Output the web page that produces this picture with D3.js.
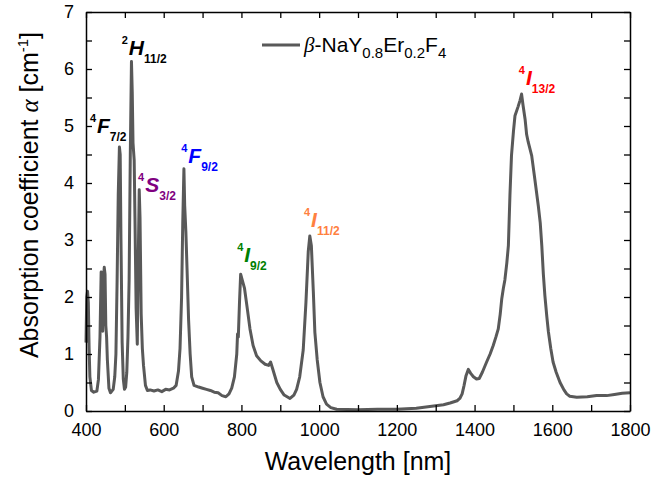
<!DOCTYPE html>
<html><head><meta charset="utf-8">
<script src="https://cdn.jsdelivr.net/npm/d3@7"></script>
<style>body{margin:0;background:#fff} text{font-family:Arial,"Liberation Sans",sans-serif}</style>
</head><body><svg id="c" width="655" height="481"></svg>
<script>
const wavelength = [400,402,404,406,408,410,414,420,428,432,436,439,441,443,445,447,449,451,453,455,459,463,470,474,477,480,483,486,488,490,493,496,499,502,505,508,511,514,517,519,521,524,526,529,532,534,537,539,542,545,548,553,558,565,575,585,595,605,615,625,632,638,642,646,649,652,654,657,660,664,668,672,678,690,700,710,720,730,740,750,760,768,775,782,788,790,792,795,798,802,808,815,822,830,839,850,861,870,875,880,891,900,910,925,935,942,950,959,966,972,976,980,985,989,995,1002,1010,1019,1030,1045,1100,1150,1200,1250,1285,1320,1337,1355,1362,1368,1373,1378,1384,1390,1397,1405,1412,1420,1431,1440,1448,1455,1461,1466,1470,1474,1478,1483,1487,1491,1495,1500,1504,1512,1517,1521,1525,1530,1534,1538,1547,1555,1564,1569,1573,1577,1581,1586,1590,1596,1602,1610,1620,1630,1637,1645,1663,1690,1714,1740,1760,1780,1800];
const alpha = [1.2,2.0,2.1,1.9,1.1,0.6,0.36,0.33,0.35,0.55,1.3,2.44,2.2,1.4,2.3,2.52,2.4,1.5,1.3,0.9,0.4,0.32,0.38,0.6,1.0,2.26,3.8,4.63,4.5,3.0,1.2,0.56,0.38,0.42,0.68,1.3,2.3,4.5,6.13,5.6,4.7,4.4,3.4,1.8,1.17,2.4,3.88,3.4,1.7,1.1,0.8,0.45,0.36,0.37,0.35,0.37,0.34,0.38,0.37,0.4,0.45,0.7,1.1,2.0,3.3,4.25,3.6,3.15,2.5,1.6,1.0,0.6,0.45,0.42,0.4,0.38,0.36,0.33,0.32,0.27,0.25,0.3,0.4,0.6,1.0,1.35,1.3,1.9,2.4,2.3,2.15,1.8,1.44,1.15,0.97,0.88,0.82,0.8,0.86,0.75,0.5,0.38,0.28,0.22,0.28,0.38,0.6,1.07,1.9,2.8,3.07,2.9,2.1,1.38,0.9,0.5,0.25,0.12,0.06,0.03,0.02,0.03,0.03,0.05,0.08,0.11,0.14,0.18,0.22,0.3,0.45,0.62,0.73,0.66,0.6,0.56,0.57,0.68,0.86,1.0,1.15,1.3,1.44,1.7,1.97,2.15,2.3,2.6,2.9,3.78,4.48,4.9,5.18,5.34,5.45,5.56,5.35,5.12,4.85,4.72,4.48,4.07,3.6,3.3,2.9,2.4,2.02,1.65,1.39,1.1,0.86,0.68,0.5,0.37,0.3,0.26,0.24,0.25,0.27,0.27,0.29,0.31,0.32];
const xTickLabels = [400,600,800,1000,1200,1400,1600,1800];
const yTickLabels = [0,1,2,3,4,5,6,7];
const transitionSup = ["2","4","4","4","4","4","4"];
const transitionMain = ["H","F","S","F","I","I","I"];
const transitionSub = ["11/2","7/2","3/2","9/2","9/2","11/2","13/2"];
const transitionColor = ["#000000","#000000","#800080","#0000ff","#008000","#ff8040","#ff0000"];
const labelAtWavelength = [492,410,534,645,789,961,1514];
const labelAtAlpha = [6.25,4.88,3.84,4.35,2.61,3.23,5.72];

const svg = d3.select("#c");
const m = {l:86, r:25, t:12, b:70};
const W = 655, H = 481;
const x = d3.scaleLinear().domain([400,1800]).range([m.l, W-m.r]);
const y = d3.scaleLinear().domain([0,7]).range([H-m.b, m.t]);

// data line
const pts = wavelength.map((w,i)=>[w,alpha[i]]);
svg.append("path").datum(pts)
  .attr("d", d3.line().x(d=>x(d[0])).y(d=>y(d[1])))
  .attr("fill","none").attr("stroke","#595959").attr("stroke-width",3).attr("stroke-linejoin","round");

// axes
const tk = 6;
const xt = d3.range(400,1801,100), yt = d3.range(0,7.01,0.5);
const fmt = d => xTickLabels.includes(d) ? d : "";
const fmtY = d => yTickLabels.includes(d) ? d : "";
const ax = [
  svg.append("g").attr("transform",`translate(0,${H-m.b})`).call(d3.axisBottom(x).tickValues(xt).tickSizeInner(-tk).tickSizeOuter(0).tickPadding(12).tickFormat(fmt)),
  svg.append("g").attr("transform",`translate(0,${m.t})`).call(d3.axisTop(x).tickValues(xt).tickSizeInner(-tk).tickSizeOuter(0).tickFormat("")),
  svg.append("g").attr("transform",`translate(${m.l},0)`).call(d3.axisLeft(y).tickValues(yt).tickSizeInner(-tk).tickSizeOuter(0).tickPadding(12).tickFormat(fmtY)),
  svg.append("g").attr("transform",`translate(${W-m.r},0)`).call(d3.axisRight(y).tickValues(yt).tickSizeInner(-tk).tickSizeOuter(0).tickFormat(""))
];
ax.forEach(g=>{
  g.select(".domain").attr("stroke","#000").attr("stroke-width",1.5);
  g.selectAll(".tick line").attr("stroke","#000").attr("stroke-width",1.3);
  g.selectAll("text").attr("font-size",18).attr("fill","#000").attr("font-family","Arial, 'Liberation Sans', sans-serif");
});

// axis titles
svg.append("text").attr("x",(m.l+W-m.r)/2).attr("y",470).attr("text-anchor","middle")
  .attr("font-size",25).text("Wavelength [nm]");
const yt_ = svg.append("text").attr("transform","translate(38,195) rotate(-90)").attr("text-anchor","middle").attr("font-size",25);
yt_.append("tspan").text("Absorption coefficient ");
yt_.append("tspan").attr("font-family","'Liberation Serif', 'Times New Roman', serif").attr("font-style","italic").text("α");
yt_.append("tspan").text(" [cm");
yt_.append("tspan").attr("font-size",15).attr("dy",-10).text("-1");
yt_.append("tspan").attr("dy",10).text("]");

// legend
svg.append("line").attr("x1",262).attr("x2",300).attr("y1",45).attr("y2",45).attr("stroke","#595959").attr("stroke-width",3);
const lg = svg.append("text").attr("x",304).attr("y",52).attr("font-size",21);
lg.append("tspan").attr("font-family","'Liberation Serif', 'Times New Roman', serif").attr("font-style","italic").text("β");
lg.append("tspan").text("-NaY");
lg.append("tspan").attr("font-size",15).attr("dy",6).text("0.8");
lg.append("tspan").attr("dy",-6).text("Er");
lg.append("tspan").attr("font-size",15).attr("dy",6).text("0.2");
lg.append("tspan").attr("dy",-6).text("F");
lg.append("tspan").attr("font-size",15).attr("dy",6).text("4");

// transition labels
transitionMain.forEach((t,i)=>{
  const tx = svg.append("text").attr("x",x(labelAtWavelength[i])).attr("y",y(labelAtAlpha[i]))
    .attr("fill",transitionColor[i]).attr("font-weight","bold");
  tx.append("tspan").attr("font-size",11).attr("dy",-11).text(transitionSup[i]);
  tx.append("tspan").attr("font-size",21).attr("font-style","italic").attr("dy",11).attr("dx",1).text(t);
  tx.append("tspan").attr("font-size",12).attr("dy",8).text(transitionSub[i]);
});
</script></body></html>
